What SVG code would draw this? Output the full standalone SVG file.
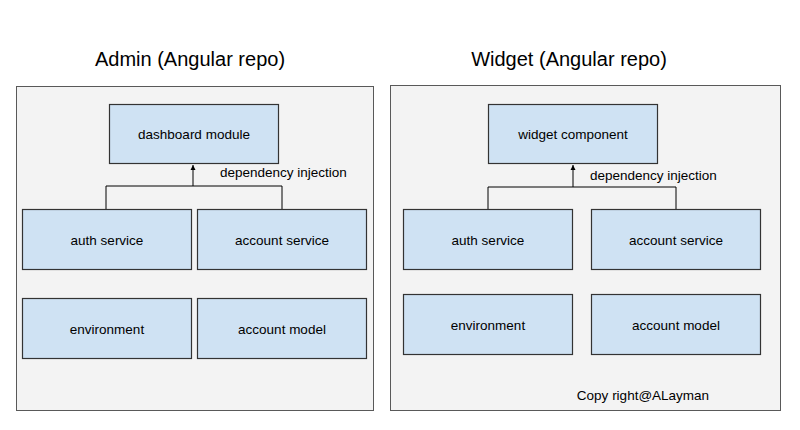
<svg xmlns="http://www.w3.org/2000/svg" width="800" height="430" viewBox="0 0 800 430">
<style>
text{font-family:"Liberation Sans",Arial,sans-serif;fill:#000}
.c{fill:#f3f3f3;stroke:#595959;stroke-width:1}
.n{fill:#cfe2f3;stroke:#333;stroke-width:1.2}
.t{font-size:13.5px;text-anchor:middle;dominant-baseline:central}
.h{font-size:20px;text-anchor:middle}
.l{fill:none;stroke:#000;stroke-width:1}
</style>
<defs><marker id="a" markerWidth="6" markerHeight="6" refX="5" refY="3" orient="auto" markerUnits="userSpaceOnUse"><path d="M0,0.5L5,3L0,5.5z" fill="#000"/></marker></defs>
<rect width="800" height="430" fill="#fff"/>
<text class="h" x="190" y="66">Admin (Angular repo)</text>
<text class="h" x="569" y="66">Widget (Angular repo)</text>
<rect class="c" x="16.5" y="86.5" width="357" height="324"/>
<rect class="c" x="390.5" y="85.5" width="390" height="325"/>
<g id="connectors">
<path class="l" d="M106,209V186H282V209M193,186V165" marker-end="url(#a)"/>
<path class="l" d="M488,209V187H676V209M573,187V165" marker-end="url(#a)"/>
<text x="220" y="177" font-size="13.5">dependency injection</text>
<text x="590" y="180" font-size="13.5">dependency injection</text>
</g>
<g id="dashboard"><rect class="n" x="109.5" y="104.5" width="169" height="59"/><text class="t" x="194" y="134">dashboard module</text></g>
<g id="auth1"><rect class="n" x="22.5" y="209.5" width="169" height="60"/><text class="t" x="107" y="240">auth service</text></g>
<g id="account1"><rect class="n" x="197.5" y="209.5" width="169" height="60"/><text class="t" x="282" y="240">account service</text></g>
<g id="env1"><rect class="n" x="22.5" y="298.5" width="169" height="60"/><text class="t" x="107" y="329">environment</text></g>
<g id="model1"><rect class="n" x="197.5" y="298.5" width="169" height="60"/><text class="t" x="282" y="329">account model</text></g>
<g id="widget"><rect class="n" x="488.5" y="104.5" width="169" height="59"/><text class="t" x="573" y="134">widget component</text></g>
<g id="auth2"><rect class="n" x="403.5" y="209.5" width="169" height="60"/><text class="t" x="488" y="240">auth service</text></g>
<g id="account2"><rect class="n" x="591.5" y="209.5" width="169" height="60"/><text class="t" x="676" y="240">account service</text></g>
<g id="env2"><rect class="n" x="403.5" y="294.5" width="169" height="60"/><text class="t" x="488" y="325">environment</text></g>
<g id="model2"><rect class="n" x="591.5" y="294.5" width="169" height="60"/><text class="t" x="676" y="325">account model</text></g>
<text x="643" y="400" font-size="13.5" text-anchor="middle">Copy right@ALayman</text>
</svg>
